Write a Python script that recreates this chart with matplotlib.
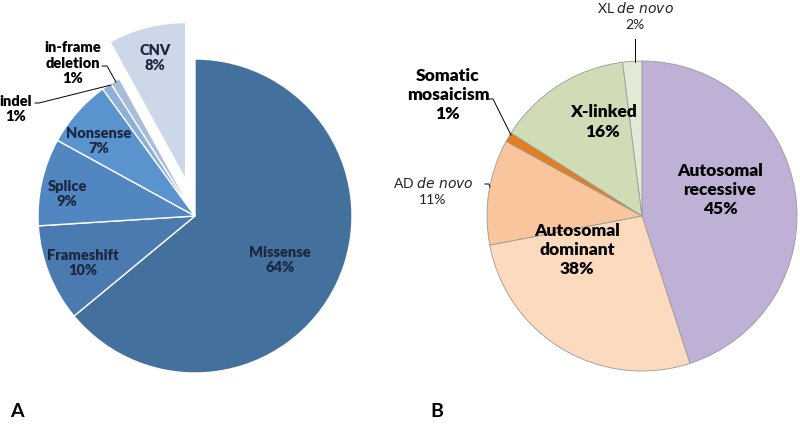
import matplotlib
matplotlib.use("Agg")
import matplotlib.pyplot as plt

plt.rcParams['font.family'] = ['Lato', 'DejaVu Sans']

# ---- data: panel A (variant types) ----
a_labels = ["Missense", "Frameshift", "Splice", "Nonsense", "indel", "in-frame\ndeletion", "CNV"]
a_values = [64, 10, 9, 7, 1, 1, 8]
a_colors = ["#44709d", "#4a7ab0", "#5186c1", "#5a93cd", "#8eafd8", "#a9bddb", "#ccd7e8"]
a_explode = [0, 0, 0, 0, 0, 0, 0.24]

# ---- data: panel B (inheritance) ----
b_labels = ["Autosomal recessive", "Autosomal dominant", "AD de novo", "Somatic mosaicism", "X-linked", "XL de novo"]
b_values = [45, 27, 11, 1, 14, 2]
b_colors = ["#bfb0d5", "#fbdabd", "#f9c59c", "#e27f1e", "#cfdcb6", "#e2e9d4"]

H = 431
fig = plt.figure(figsize=(8.0, 4.31), dpi=100)
ax = fig.add_axes([0, 0, 1, 1])

def Y(y):
    return H - y

rA = 157
# Pie A (explode in matplotlib is in data units, so scale by the radius)
ax.pie(a_values, colors=a_colors, explode=[e * rA for e in a_explode],
       startangle=90, counterclock=False,
       center=(195, Y(217)), radius=rA,
       wedgeprops=dict(edgecolor="white", linewidth=1.0))

# Pie B
ax.pie(b_values, colors=b_colors, startangle=90, counterclock=False,
       center=(642, Y(217)), radius=155,
       wedgeprops=dict(edgecolor="#9a9a9a", linewidth=0.6))

ax.set_xlim(0, 800)
ax.set_ylim(0, H)
ax.set_aspect('equal')
ax.axis('off')

navy = "#1c2740"
fs = 10.5
def lab(x, y, s, color="black", weight="heavy", size=fs):
    ax.text(x, Y(y), s, ha="center", va="center", color=color, fontweight=weight,
            fontsize=size, linespacing=1.25)

# Panel A labels
lab(280, 260, f"{a_labels[0]}\n{a_values[0]}%", navy)
lab(83, 263, f"{a_labels[1]}\n{a_values[1]}%", navy)
lab(67, 194, f"{a_labels[2]}\n{a_values[2]}%", navy)
lab(99, 141, f"{a_labels[3]}\n{a_values[3]}%", navy)
lab(155, 58, f"{a_labels[6]}\n{a_values[6]}%", navy)
lab(73, 63, f"{a_labels[5]}\n{a_values[5]}%", "black")
lab(16, 109, f"{a_labels[4]}\n{a_values[4]}%", "black")

lc = dict(color="black", linewidth=0.7)
ax.plot([102, 107, 116], [Y(67), Y(67), Y(83)], **lc)
ax.plot([35, 39, 111], [Y(104), Y(104), Y(86)], **lc)

# Panel B labels
lab(720, 190, f"Autosomal\nrecessive\n{b_values[0]}%", size=12.5)
lab(577, 250, f"Autosomal\ndominant\n{b_values[1] + b_values[2]}%", size=12.5)
lab(603, 122, f"{b_labels[4]}\n{b_values[4] + b_values[5]}%", size=12.5)
lab(448, 95, f"Somatic\nmosaicism\n{b_values[3]}%", size=12.5)

ax.text(433, Y(182), r"AD $\it{de\ novo}$", ha="center", va="center", fontsize=10, color="#222222")
ax.text(433, Y(200), f"{b_values[2]}%", ha="center", va="center", fontsize=10, color="#222222")
ax.text(635, Y(7), r"XL $\it{de\ novo}$", ha="center", va="center", fontsize=10, color="#222222")
ax.text(635, Y(25), f"{b_values[5]}%", ha="center", va="center", fontsize=10, color="#222222")

ax.plot([489, 493, 511], [Y(100), Y(100), Y(136)], **lc)
ax.plot([485, 489, 490], [Y(185), Y(185), Y(188)], **lc)
ax.plot([635, 635], [Y(40), Y(63)], **lc)

ax.text(17, Y(412), "A", ha="center", va="center", fontsize=14, fontweight="bold")
ax.text(437, Y(412), "B", ha="center", va="center", fontsize=14, fontweight="bold")

fig.savefig("out.png", dpi=100)
